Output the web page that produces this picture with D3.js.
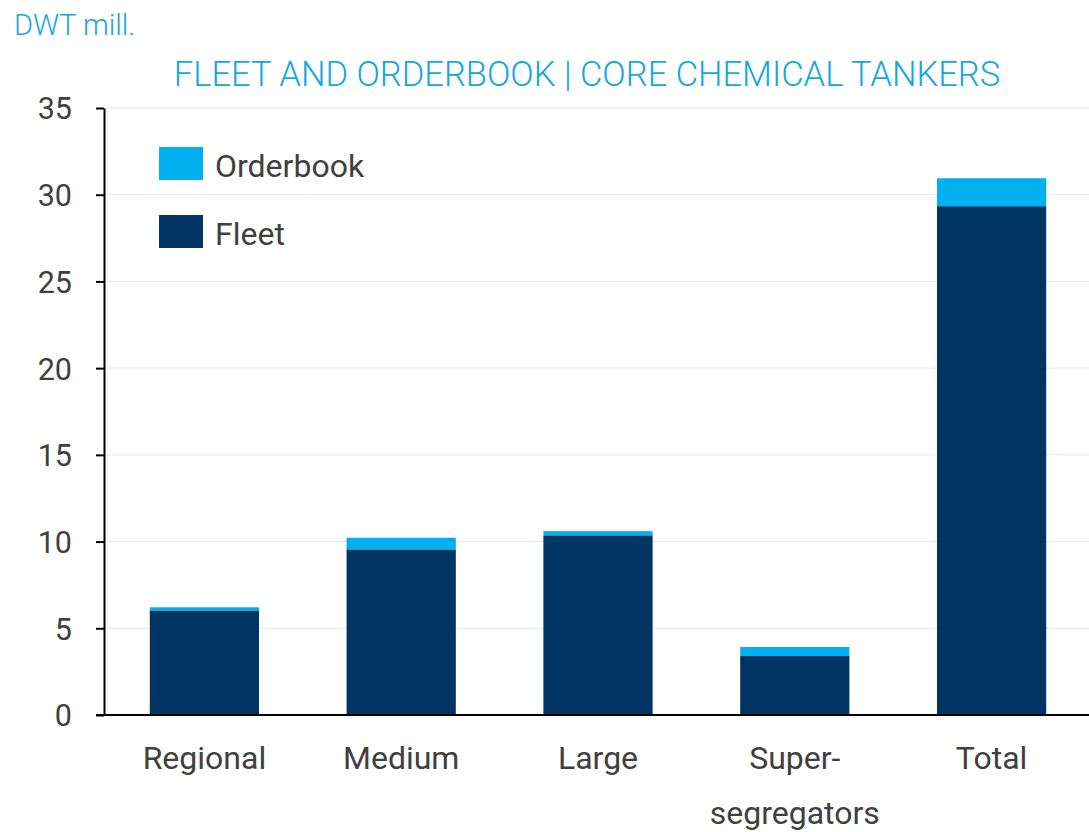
<!DOCTYPE html>
<html>
<head>
<meta charset="utf-8">
<script src="https://cdn.jsdelivr.net/npm/d3@7"></script>
<style>
  html, body { margin: 0; padding: 0; background: #fff; }
  svg { display: block; font-family: Roboto, "Noto Sans", sans-serif; }
</style>
</head>
<body>
<svg id="chart" width="1089" height="832"></svg>
<script>
// Deadweight tonnage (million DWT) by core chemical tanker segment
const categories = ["Regional", "Medium", "Large", "Super-\nsegregators", "Total"];
const fleet      = [6.03, 9.55, 10.36, 3.40, 29.34];
const orderbook  = [0.18, 0.67, 0.24, 0.52, 1.61];
const yTicks     = [0, 5, 10, 15, 20, 25, 30, 35];
const seriesNames = ["Fleet", "Orderbook"];
const seriesColors = ["#003462", "#00b0f0"];

const svg = d3.select("#chart");
const textColor = "#404040";
const accent = "#17a6de";

const x = d3.scaleBand()
  .domain(categories)
  .range([106, 1090])
  .paddingInner(0.445)
  .paddingOuter(0.2225);

const y = d3.scaleLinear().domain([0, 35]).range([715, 108]);

// horizontal gridlines
svg.append("g")
  .selectAll("line")
  .data(yTicks.filter(d => d > 0))
  .join("line")
  .attr("x1", 104).attr("x2", 1089)
  .attr("y1", d => y(d)).attr("y2", d => y(d))
  .attr("stroke", "#e4e8f0").attr("stroke-width", 1);

// stacked bars
const rows = categories.map((c, i) => ({ cat: c, Fleet: fleet[i], Orderbook: orderbook[i] }));
const stacked = d3.stack().keys(seriesNames)(rows);
const color = d3.scaleOrdinal().domain(seriesNames).range(seriesColors);

svg.append("g")
  .selectAll("g")
  .data(stacked)
  .join("g")
  .attr("fill", d => color(d.key))
  .selectAll("rect")
  .data(d => d)
  .join("rect")
  .attr("x", d => x(d.data.cat))
  .attr("width", x.bandwidth())
  .attr("y", d => y(d[1]))
  .attr("height", d => y(d[0]) - y(d[1]));

// y axis
const yAxis = svg.append("g")
  .attr("transform", "translate(104,0)")
  .call(d3.axisLeft(y).tickValues(yTicks).tickSize(8).tickPadding(24).tickSizeOuter(0));
yAxis.select(".domain").attr("stroke", "#000").attr("stroke-width", 2);
yAxis.selectAll(".tick line").attr("stroke", "#000").attr("stroke-width", 2);
yAxis.selectAll(".tick text")
  .attr("fill", textColor)
  .style("font-size", "30.5px")
  .attr("font-family", "Roboto")
  .attr("dy", "0.36em");

// x axis baseline
svg.append("line")
  .attr("x1", 96).attr("x2", 1089)
  .attr("y1", y(0)).attr("y2", y(0))
  .attr("stroke", "#000").attr("stroke-width", 2);

// category labels (multi-line)
const xl = svg.append("g");
categories.forEach(c => {
  const t = xl.append("text")
    .attr("x", x(c) + x.bandwidth() / 2)
    .attr("y", 769)
    .attr("text-anchor", "middle")
    .attr("fill", textColor)
    .style("font-size", "32px");
  c.split("\n").forEach((line, j) => {
    t.append("tspan")
      .attr("x", x(c) + x.bandwidth() / 2)
      .attr("dy", j === 0 ? 0 : 55)
      .text(line);
  });
});

// unit label
svg.append("text")
  .attr("x", 14).attr("y", 35)
  .attr("fill", accent)
  .style("font-size", "29px")
  .style("font-weight", 300)
  .text("DWT mill.");

// title
svg.append("text")
  .attr("x", 587).attr("y", 86)
  .attr("text-anchor", "middle")
  .attr("fill", accent)
  .style("font-size", "34.5px")
  .style("font-weight", 300)
  .text("FLEET AND ORDERBOOK | CORE CHEMICAL TANKERS");

// legend
const legendItems = [
  { name: "Orderbook", y: 147 },
  { name: "Fleet", y: 215 }
];
const lg = svg.append("g");
legendItems.forEach(d => {
  lg.append("rect")
    .attr("x", 159).attr("y", d.y)
    .attr("width", 44).attr("height", 33)
    .attr("fill", color(d.name));
  lg.append("text")
    .attr("x", 215).attr("y", d.y + 30)
    .attr("fill", textColor)
    .style("font-size", "32px")
    .text(d.name);
});
</script>
</body>
</html>
